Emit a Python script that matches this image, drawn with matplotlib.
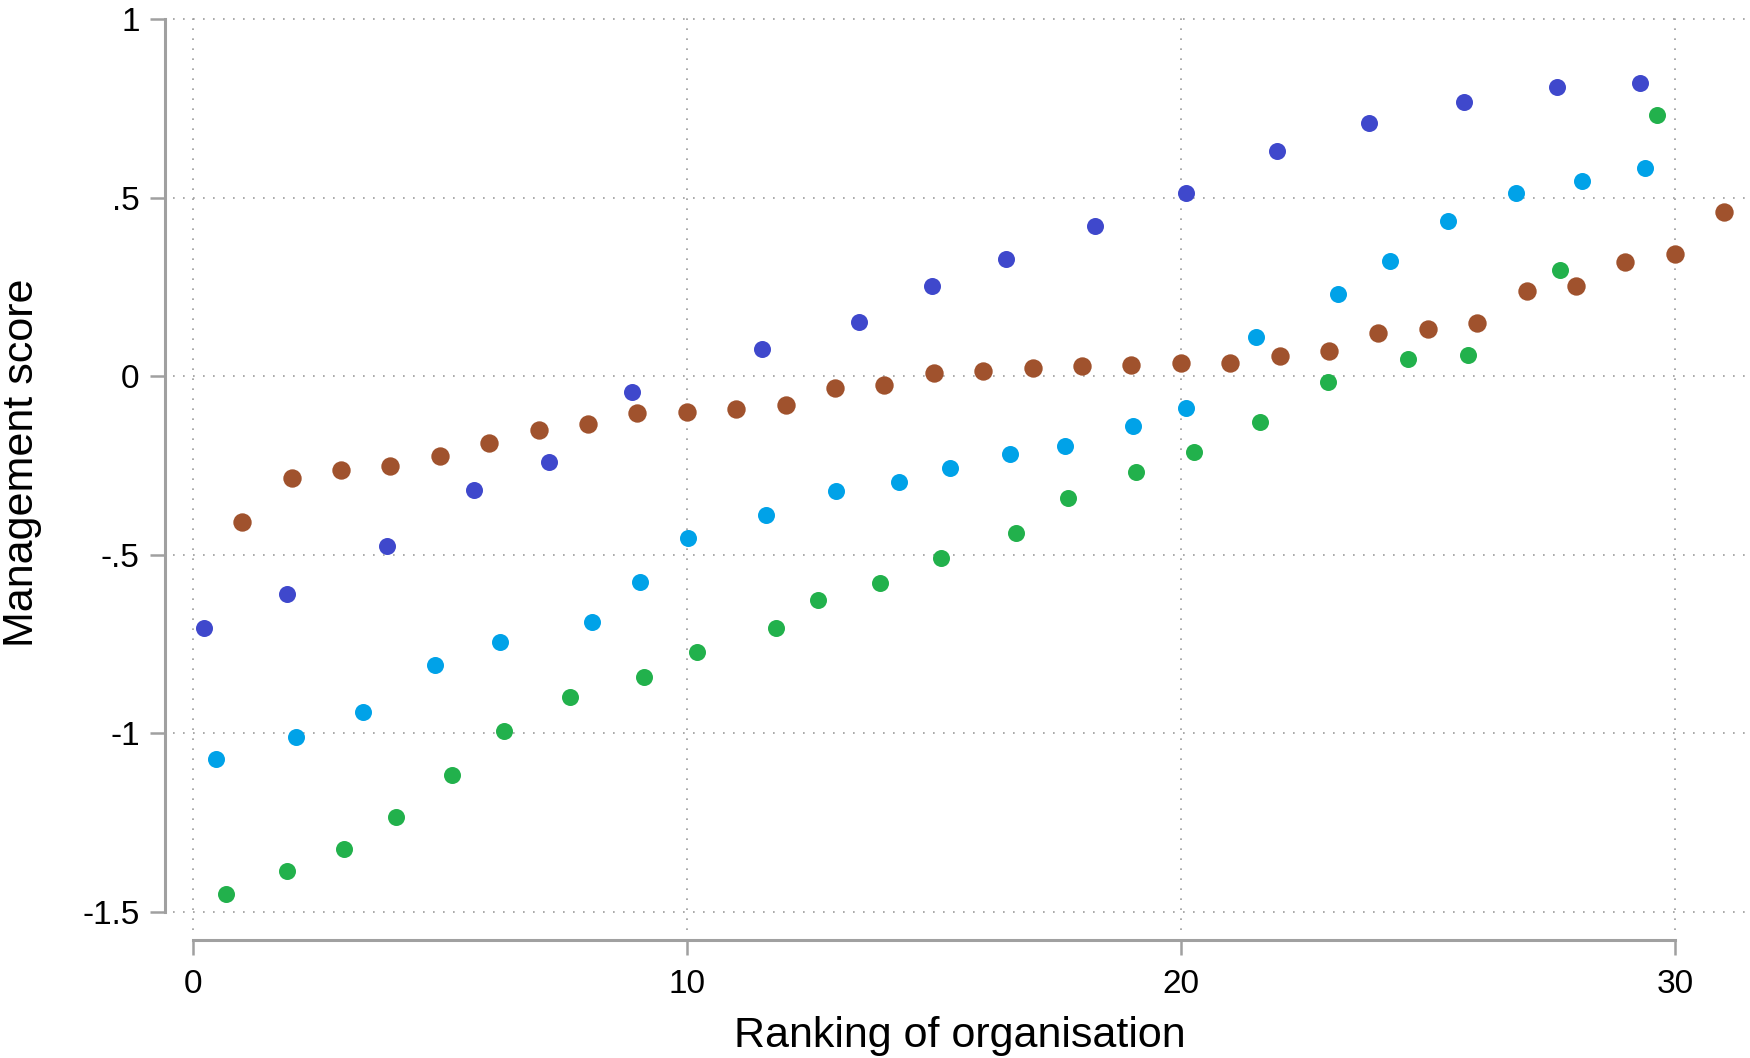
import matplotlib
matplotlib.use("Agg")
import matplotlib.pyplot as plt

# dark blue series
navy_x = [0.23, 1.90, 3.93, 5.69, 7.20, 8.89, 11.53, 13.48, 14.97, 16.46, 18.26,
          20.11, 21.94, 23.81, 25.73, 27.61, 29.30]
navy_y = [-0.706, -0.609, -0.475, -0.319, -0.241, -0.044, 0.075, 0.153, 0.253, 0.328, 0.422,
          0.513, 0.631, 0.709, 0.769, 0.809, 0.822]

# light blue series
cyan_x = [0.47, 2.08, 3.45, 4.90, 6.21, 8.08, 9.05, 10.02, 11.60, 13.02, 14.29, 15.33,
          16.55, 17.65, 19.03, 20.11, 21.53, 23.18, 24.24, 25.40, 26.79, 28.13, 29.39]
cyan_y = [-1.072, -1.009, -0.941, -0.809, -0.744, -0.688, -0.575, -0.453, -0.388, -0.322,
          -0.297, -0.256, -0.219, -0.194, -0.138, -0.088, 0.109, 0.231, 0.322, 0.434,
          0.513, 0.547, 0.584]

# green series
green_x = [0.68, 1.90, 3.07, 4.11, 5.24, 6.30, 7.63, 9.14, 10.20, 11.81, 12.66, 13.91,
           15.15, 16.66, 17.72, 19.10, 20.27, 21.60, 22.98, 24.60, 25.82, 27.68, 29.64]
green_y = [-1.45, -1.384, -1.322, -1.234, -1.116, -0.994, -0.897, -0.841, -0.772, -0.706,
           -0.625, -0.578, -0.509, -0.438, -0.341, -0.269, -0.213, -0.128, -0.016, 0.047,
           0.059, 0.297, 0.731]

# brown series, one per rank
brown_x = list(range(1, 32))
brown_y = [-0.409, -0.284, -0.263, -0.25, -0.222, -0.188, -0.15, -0.134, -0.103, -0.1,
           -0.091, -0.081, -0.034, -0.025, 0.009, 0.016, 0.022, 0.028, 0.031, 0.038,
           0.038, 0.056, 0.072, 0.122, 0.131, 0.15, 0.238, 0.253, 0.319, 0.341, 0.459]

x_ticks = [0, 10, 20, 30]
y_ticks = [-1.5, -1, -0.5, 0, 0.5, 1]
y_tick_labels = ["-1.5", "-1", "-.5", "0", ".5", "1"]

grey = "#A0A0A0"


def main():
    plt.rcParams['font.family'] = ['Liberation Sans', 'DejaVu Sans']
    fig = plt.figure(figsize=(17.5, 10.58), dpi=100)
    ax = fig.add_axes([0.0989, 0.121, 0.8991, 0.8644])

    ax.scatter(navy_x, navy_y, s=150, color="#3F48CC", linewidths=0, zorder=3)
    ax.scatter(cyan_x, cyan_y, s=150, color="#00A2E8", linewidths=0, zorder=3)
    ax.scatter(green_x, green_y, s=150, color="#22B14C", linewidths=0, zorder=3)
    ax.scatter(brown_x, brown_y, s=175, color="#A0522D", linewidths=0, zorder=3)

    ax.set_xlim(-0.4, 31.45)
    ax.set_ylim(-1.55, 1.01)

    ax.set_xticks(x_ticks)
    ax.set_yticks(y_ticks)
    ax.set_yticklabels(y_tick_labels)

    ax.grid(True, color="#9C9C9C", linestyle=(0, (1, 5)), linewidth=1.2)
    ax.set_axisbelow(True)

    for side in ["top", "right"]:
        ax.spines[side].set_visible(False)
    ax.spines["left"].set_position(("outward", 6))
    ax.spines["bottom"].set_position(("outward", 7))
    ax.spines["left"].set_bounds(-1.5, 1)
    ax.spines["bottom"].set_bounds(0, 30)
    for side in ["left", "bottom"]:
        ax.spines[side].set_color(grey)
        ax.spines[side].set_linewidth(2.2)

    ax.tick_params(axis="both", color=grey, width=1.8, length=11, labelsize=24,
                   labelcolor="black")
    ax.tick_params(axis="y", pad=7)
    ax.tick_params(axis="x", pad=10)

    ax.set_xlabel("Ranking of organisation", fontsize=31)
    ax.set_ylabel("Management score", fontsize=31)
    ax.xaxis.label.set_va("center")
    ax.yaxis.label.set_va("center")
    ax.xaxis.set_label_coords(0.5, -0.116)
    ax.yaxis.set_label_coords(-0.0959, 0.5106)

    fig.savefig("out.png", dpi=100)


if __name__ == "__main__":
    main()
